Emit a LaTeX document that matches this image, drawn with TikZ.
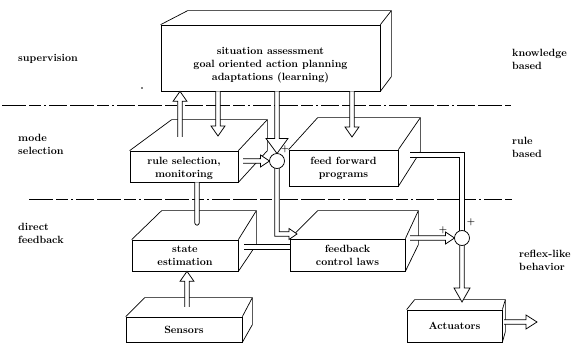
\documentclass[tikz,border=0pt]{standalone}
\usetikzlibrary{calc}
\tikzset{
  box/.style={draw, line width=0.7pt, fill=white, align=center, inner sep=0pt,
    font=\bfseries\fontsize{10.5}{13}\selectfont},
  face/.style={draw, line width=0.7pt, line join=round},
  pl/.style={line width=0.75pt, line join=miter},
  sep/.style={line width=0.6pt, dash pattern=on 24pt off 3pt on 12pt off 3pt on 2pt off 3pt on 18pt off 3pt},
  lbl/.style={anchor=west, align=left, inner sep=0pt, font=\bfseries\fontsize{10.5}{13}\selectfont},
  sum/.style={circle, draw, line width=0.75pt, minimum size=15pt, inner sep=0pt, fill=white},
  plus/.style={inner sep=0pt, font=\bfseries\fontsize{9}{9}\selectfont}
}
\def\pw{2.2pt}
\newcommand\cubefaces[5]{% node, left depth, right depth, height, back edge length
  \draw[face] (#1.north west) -- ++(#2,-#4) -- ($(#1.north east)+(#3,-#4)$) -- (#1.north east);
  \draw[face] ($(#1.north east)+(#3,-#4)$) -- ++(0,#5) -- (#1.south east);
}
\newcommand\harrow[4]{% from, tip, head length, head half width
  \coordinate (hb) at ($(#2)!#3!(#1)$);
  \filldraw[pl, fill=white] ($(#1)!\pw!90:(#2)$) -- ($(hb)!\pw!90:(#2)$) -- ($(hb)!#4!90:(#2)$) -- (#2)
    -- ($(hb)!#4!-90:(#2)$) -- ($(hb)!\pw!-90:(#2)$) -- ($(#1)!\pw!-90:(#2)$);
}
\newcommand\spipe[2]{% plain straight pipe
  \fill[white] ($(#1)!\pw!90:(#2)$) -- ($(#2)!\pw!-90:(#1)$) -- ($(#2)!\pw!90:(#1)$) -- ($(#1)!\pw!-90:(#2)$) -- cycle;
  \draw[pl] ($(#1)!\pw!90:(#2)$) -- ($(#2)!\pw!-90:(#1)$);
  \draw[pl] ($(#1)!\pw!-90:(#2)$) -- ($(#2)!\pw!90:(#1)$);
}
\begin{document}
\begin{tikzpicture}[x=1pt,y=-1pt]
\fill[white] (0,0) rectangle (576,344);
\useasboundingbox (0,0) rectangle (576,344);

% separators
\draw[sep] (2,105) -- (511,105);
\draw[sep] (29,199) -- (512,199);

% boxes
\node[box, minimum width=219pt, minimum height=66pt] (top) at (270.5,58)
  {\rule{0pt}{21.5pt}situation assessment\\goal oriented action planning\\adaptations (learning)};
\cubefaces{top}{27}{11}{14}{66}
\node[box, minimum width=108pt, minimum height=31pt] (rs) at (184,166.5)
  {\rule{0pt}{11pt}rule selection,\\monitoring};
\cubefaces{rs}{42}{29}{31}{31}
\node[box, minimum width=109pt, minimum height=36pt] (ff) at (343.5,168)
  {feed forward\\programs};
\cubefaces{ff}{29}{22}{32}{34}
\node[box, minimum width=106pt, minimum height=31pt] (se) at (185,255.5)
  {state\\estimation};
\cubefaces{se}{30}{18}{29}{34}
\node[box, minimum width=115pt, minimum height=32pt] (fcl) at (347.5,255)
  {feedback\\control laws};
\cubefaces{fcl}{28}{13}{28}{34}
\node[box, minimum width=116pt, minimum height=25pt] (sen) at (184,329.5)
  {Sensors};
\cubefaces{sen}{19}{10}{19}{27}
\node[box, minimum width=95pt, minimum height=32pt] (act) at (454.5,326)
  {Actuators};
\cubefaces{act}{8}{3}{10}{32}

% coordinates for summation points
\coordinate (s1c) at (277,161);
\coordinate (s2c) at (462,238);

% connectors
\coordinate (rsup) at (180,137);
\coordinate (rsupt) at (rsup |- top.south);
\harrow{rsup}{rsupt}{10pt}{7pt}
\coordinate (rsin) at (218,136);
\coordinate (rsins) at (rsin |- top.south);
\harrow{rsins}{rsin}{10pt}{7pt}
\coordinate (ffin) at (352,137);
\coordinate (ffins) at (ffin |- top.south);
\harrow{ffins}{ffin}{10pt}{7pt}
\coordinate (s1n) at (277,153.5);
\coordinate (s1ins) at (s1n |- top.south);
\harrow{s1ins}{s1n}{15pt}{11pt}
\coordinate (rsout) at (243,161);
\coordinate (s1w) at (269.5,161);
\harrow{rsout}{s1w}{9pt}{6pt}
% circle 1 down and into feedback control laws
\coordinate (s1s) at (277,168);
\coordinate (c1) at (277,234);
\coordinate (fclin) at (297,234);
\filldraw[pl, fill=white] ($(s1s)+(-2.2,0)$) -- ($(c1)+(-2.2,2.2)$) -- ($(fclin)+(-8,2.2)$) -- ($(fclin)+(-8,5.5)$)
  -- (fclin) -- ($(fclin)+(-8,-5.5)$) -- ($(fclin)+(-8,-2.2)$) -- ($(c1)+(2.2,-2.2)$) -- ($(s1s)+(2.2,0)$);
% rule selection down to state estimation
\coordinate (sein) at (197,223);
\coordinate (seins) at (sein |- rs.south);
\filldraw[pl, fill=white] ($(seins)+(-2.2,0)$) -- ($(sein)+(-2.2,0)$) arc[start angle=180, end angle=0, radius=2.2] -- ($(seins)+(2.2,0)$);
% state estimation to feedback control laws
\coordinate (seout) at (244,247);
\coordinate (seoutt) at (seout -| fcl.west);
\spipe{seout}{seoutt}
% sensors to state estimation
\coordinate (senout) at (187,307);
\coordinate (senoutt) at (senout |- se.south);
\harrow{senout}{senoutt}{10pt}{7pt}
% feed forward to circle 2
\coordinate (ffout) at (410,155);
\coordinate (c2) at (462,155);
\coordinate (s2n) at (462,232);
\filldraw[pl, fill=white] ($(ffout)+(0,-2.2)$) -- ($(c2)+(2.2,-2.2)$) -- ($(s2n)+(2.2,0)$) -- ($(s2n)+(-2.2,0)$)
  -- ($(c2)+(-2.2,2.2)$) -- ($(ffout)+(0,2.2)$);
% feedback control laws to circle 2
\coordinate (fclout) at (410,238);
\coordinate (s2w) at (454.5,238);
\harrow{fclout}{s2w}{9pt}{6pt}
% circle 2 to actuators
\coordinate (s2s) at (462,245);
\coordinate (actin) at (462,302);
\harrow{s2s}{actin}{14pt}{8pt}
% actuators output
\coordinate (actout) at (504,322);
\coordinate (outtip) at (537,322);
\harrow{actout}{outtip}{11pt}{7pt}

% summation points
\node[sum] (s1) at (s1c) {};
\node[sum] (s2) at (s2c) {};
\node[plus] (p1) at (285,149) {+};
\node[plus] (p2) at (471,222) {+};
\node[plus] (p3) at (443,230) {+};

% level labels
\node[lbl] (l1) at (18,59) {supervision};
\node[lbl] (l2) at (18,144) {mode\\selection};
\node[lbl] (l3) at (18,233) {direct\\feedback};
\node[lbl] (r1) at (512,59) {knowledge\\based};
\node[lbl] (r2) at (512,147) {rule\\based};
\node[lbl] (r3) at (519,260) {reflex-like\\behavior};
\fill (142,88) circle (0.8pt);
\end{tikzpicture}
\end{document}
